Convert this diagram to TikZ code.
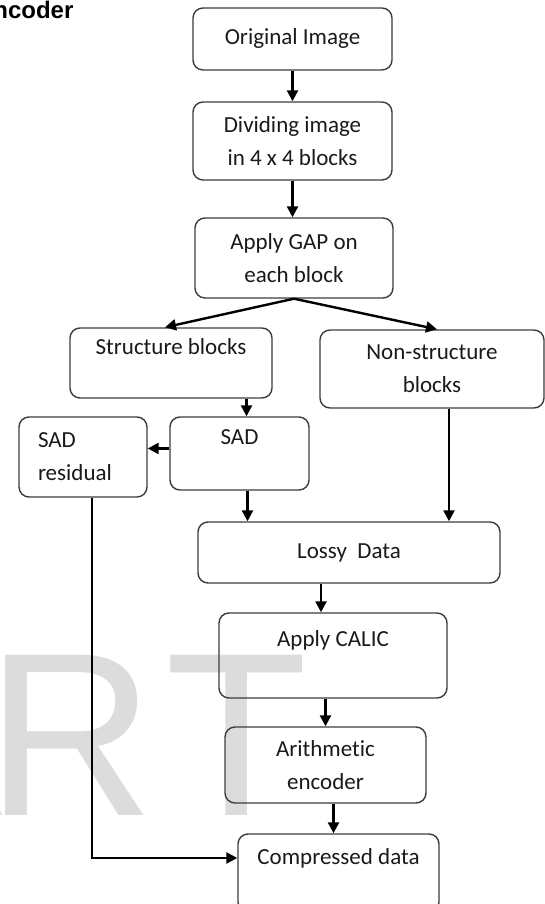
\documentclass[tikz,border=0pt]{standalone}
\usepackage{fontspec}
\setmainfont{Carlito}[Ligatures=NoCommon]
\newfontfamily\headfont{Liberation Sans}
\usetikzlibrary{arrows.meta,calc}
\definecolor{Ink}{HTML}{1A1A1A}
\definecolor{Edge}{HTML}{3C3C3C}
\definecolor{Mark}{HTML}{DCDCDC}

\begin{document}
\begin{tikzpicture}[x=0.5pt,y=0.5pt,
  box/.style={draw=Edge,line width=0.7pt,rounded corners=5pt,align=center,
    inner sep=0pt,text=Ink,font=\fontsize{11.5}{16.5}\selectfont},
  flow/.style={draw=black,line width=1.2pt,-{Triangle[length=5.5pt,width=5.5pt]}}]
\path[use as bounding box,fill=white] (0,0) rectangle (545,904);
\node[anchor=base west,inner sep=0pt,text=Mark,
  font=\headfont\fontsize{116.5}{120}\selectfont] (mark) at (-153,88) {A\kern-8pt R\kern5.5pt T};
\node[anchor=base west,inner sep=0pt,text=black,
  font=\headfont\bfseries\fontsize{12}{14}\selectfont] (head) at (-23,885) {Encoder};
\node[box,minimum width=99.5pt,minimum height=31pt] (orig) at (292.5,865) {Original Image};
\node[box,minimum width=99.5pt,minimum height=39pt] (divide) at (292.5,763) {Dividing image\\in 4 x 4 blocks};
\node[box,minimum width=99pt,minimum height=40pt] (gap) at (294,646) {Apply GAP on\\each block};
\node[box,minimum width=101pt,minimum height=35pt] (struct) at (171,541) {Structure blocks\\\mbox{}};
\node[box,minimum width=112pt,minimum height=39pt] (nonstruct) at (432,535) {Non-structure\\blocks};
\node[box,minimum width=69.5pt,minimum height=36.5pt] (sad) at (239.5,450.5) {SAD\\\mbox{}};
\node[box,align=left,text width=45pt,minimum width=64pt,minimum height=40pt] (resid) at (83,447) {SAD\\residual};
\node[box,minimum width=151pt,minimum height=30.5pt] (lossy) at (349,351.5) {Lossy~ Data};
\node[box,minimum width=114pt,minimum height=42.5pt] (calic) at (333,248.5) {Apply CALIC\\\mbox{}};
\node[box,minimum width=100.5pt,minimum height=38pt] (arith) at (325.5,139) {Arithmetic\\encoder};
\node[box,minimum width=100.5pt,minimum height=39pt] (comp) at (338.5,31) {Compressed data\\\mbox{}};
\draw[flow] (orig) -- (divide);
\draw[flow] (divide.south) -- (divide.south |- gap.north);
\draw[flow] (gap.south) -- ([xshift=-3pt]struct.north);
\draw[flow] (gap.south) -- ([xshift=2.5pt]nonstruct.north);
\draw[flow] ([xshift=3.5pt]sad.north |- struct.south) -- ([xshift=3.5pt]sad.north);
\draw[flow] ([yshift=2.5pt]sad.west) -- ([yshift=2.5pt]sad.west -| resid.east);
\draw[flow] ([xshift=4pt]sad.south) -- ([xshift=4pt]sad.south |- lossy.north);
\draw[flow] ([xshift=8.5pt]nonstruct.south) -- ([xshift=8.5pt]nonstruct.south |- lossy.north);
\draw[flow] ([xshift=-6pt]calic.north |- lossy.south) -- ([xshift=-6pt]calic.north);
\draw[flow] (arith.north |- calic.south) -- (arith.north);
\draw[flow] ([xshift=4pt]arith.south) -- ([xshift=4pt]arith.south |- comp.north);
\draw[flow] ([xshift=4.5pt]resid.south) |- ([yshift=7.5pt]comp.west);
\end{tikzpicture}
\end{document}
